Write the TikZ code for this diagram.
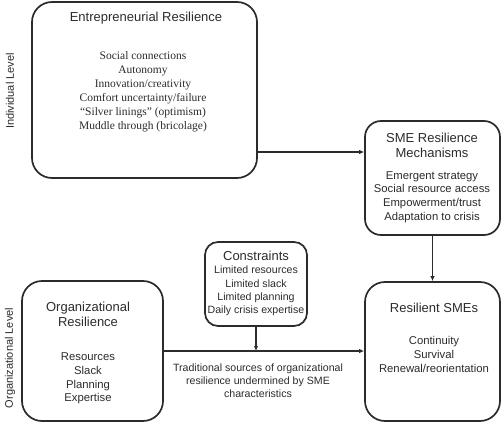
\documentclass[tikz,border=0pt]{standalone}
\usepackage{fontspec}
\setmainfont{Liberation Serif}
\setsansfont{Liberation Sans}
\usetikzlibrary{arrows.meta}
\definecolor{ink}{HTML}{2B2B2B}
\begin{document}
\begin{tikzpicture}[x=1pt,y=-1pt,
  box/.style={draw=ink,line width=1.7pt,rounded corners=20pt,inner sep=0pt},
  title/.style={font=\sffamily\fontsize{13}{15}\selectfont,text=ink,align=center,inner sep=0pt},
  items/.style={font=\sffamily\fontsize{11.3}{13.6}\selectfont,text=ink,align=center,inner sep=0pt},
  sitems/.style={font=\sffamily\fontsize{10.6}{13.2}\selectfont,text=ink,align=center,inner sep=0pt},
  ritems/.style={font=\rmfamily\fontsize{11.5}{14}\selectfont,text=ink,align=center,inner sep=0pt},
  level/.style={font=\sffamily\fontsize{11}{13}\selectfont,text=ink,rotate=90,inner sep=0pt},
  arr/.style={draw=ink,line width=1.4pt,-{Latex[length=5pt,width=4.5pt]}}]
\useasboundingbox (0,0) rectangle (504,423);
% boxes
\node[box,minimum width=225pt,minimum height=176pt] (E) at (144.5,90) {};
\node[box,rounded corners=16pt,minimum width=135pt,minimum height=114pt] (S) at (432.5,178) {};
\node[box,minimum width=135pt,minimum height=139pt] (R) at (432.5,351.5) {};
\node[box,rounded corners=13pt,minimum width=102pt,minimum height=84pt] (C) at (256,284) {};
\node[box,minimum width=141pt,minimum height=140pt] (O) at (92.5,351) {};
% texts
\node[title] (Et) at (146,18) {Entrepreneurial Resilience};
\node[ritems] (Ei) at (143,92) {Social connections\\Autonomy\\Innovation/creativity\\Comfort uncertainty/failure\\“Silver linings” (optimism)\\Muddle through (bricolage)};
\node[title] (St) at (432,145.5) {SME Resilience\\Mechanisms};
\node[items] (Si) at (432,197) {Emergent strategy\\Social resource access\\Empowerment/trust\\Adaptation to crisis};
\node[title] (Ct) at (256,256) {Constraints};
\node[sitems] (Ci) at (256,291) {Limited resources\\Limited slack\\Limited planning\\Daily crisis expertise};
\node[title] (Ot) at (88,314.5) {Organizational\\Resilience};
\node[items] (Oi) at (88,378.5) {Resources\\Slack\\Planning\\Expertise};
\node[title] (Rt) at (434,308) {Resilient SMEs};
\node[items] (Ri) at (434,354.5) {Continuity\\Survival\\Renewal/reorientation};
\node[sitems] (T) at (258,380.5) {Traditional sources of organizational\\resilience undermined by SME\\characteristics};
\node[level] (L1) at (10,91) {Individual Level};
\node[level] (L2) at (10,358) {Organizational Level};
% connectors
\coordinate (a1) at (257,152);
\draw[arr] (a1) -- (a1 -| S.west);
\draw[arr] (S.south) -- (R.north);
\draw[arr] (O.east) -- (O.east -| R.west);
\draw[arr] (C.south) -- (C.south |- O.east);
\end{tikzpicture}
\end{document}
